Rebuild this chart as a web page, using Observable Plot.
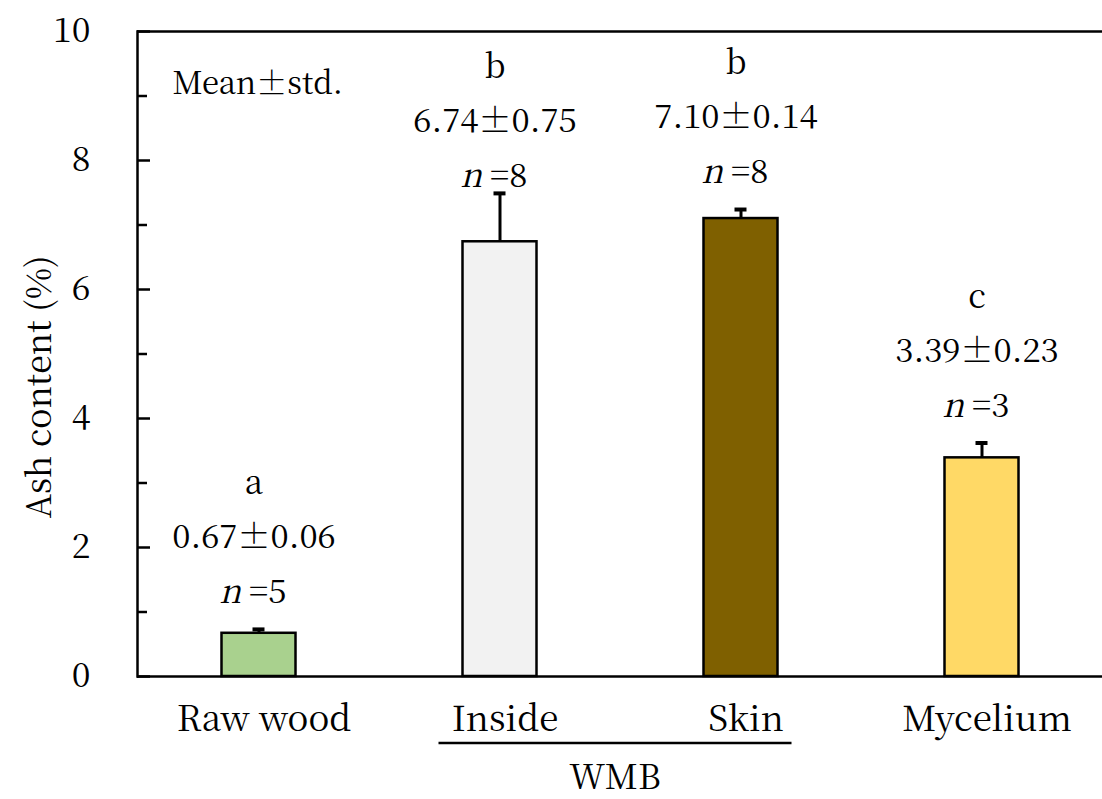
<!DOCTYPE html>
<html>
<head>
<meta charset="utf-8">
<script src="https://cdn.jsdelivr.net/npm/d3@7"></script>
<script src="https://cdn.jsdelivr.net/npm/@observablehq/plot@0.6"></script>
<style>
  html, body { margin: 0; padding: 0; background: #fff; }
  #chart { width: 1102px; height: 799px; }
  #chart svg, #chart svg text {
    font-family: "Noto Serif CJK JP", "Liberation Serif", serif !important;
  }
</style>
</head>
<body>
<div id="chart"></div>
<script>
// Ash content of raw wood, WMB (inside / skin) and mycelium
const groups  = ["Raw wood", "Inside", "Skin", "Mycelium"];
const means   = [0.67, 6.74, 7.10, 3.39];
const stds    = [0.06, 0.75, 0.14, 0.23];
const counts  = [5, 8, 8, 3];
const letters = ["a", "b", "b", "c"];
const colors  = ["#a9d18e", "#f2f2f2", "#7f6000", "#ffd966"];
const yMajorTicks = [0, 2, 4, 6, 8, 10];
const yMinorTicks = [1, 3, 5, 7, 9];
const wmbGroups = ["Inside", "Skin"];

const fmt = (v) => v.toFixed(2);
const data = groups.map((g, i) => ({
  group: g,
  mean: means[i],
  std: stds[i],
  top: means[i] + stds[i],
  n: counts[i],
  letter: letters[i],
  color: colors[i],
  stat: `${fmt(means[i])}±${fmt(stds[i])}`
}));

const FS = 34;      // axis text
const FS_ANN = 33;  // annotations
const AXIS_W = 2.5;

// labels above each error bar: letter, mean ± std, n
function annotations(rows, lift) {
  const base = {x: "group", y: "top", lineAnchor: "middle", fontSize: FS_ANN, fill: "black"};
  return [
    Plot.text(rows, {...base, text: "letter", dx: -5, dy: -146 + lift}),
    Plot.text(rows, {...base, text: "stat", dx: -5, dy: -92 + lift}),
    Plot.text(rows, {...base, text: () => "n", fontStyle: "italic", textAnchor: "end", dx: -18, dy: -37 + lift}),
    Plot.text(rows, {...base, text: (d) => `=${d.n}`, textAnchor: "start", dx: -10, dy: -37 + lift})
  ];
}

const chart = Plot.plot({
  width: 1102,
  height: 799,
  marginLeft: 137,
  marginRight: 0,
  marginTop: 31,
  marginBottom: 123,
  style: {fontSize: `${FS}px`, color: "black", background: "white", overflow: "visible"},
  x: {domain: groups, padding: 0, axis: null},
  y: {domain: [0, 10], axis: null},
  color: {type: "identity"},
  marks: [
    Plot.barY(data, {
      x: "group", y: "mean", fill: "color",
      stroke: "black", strokeWidth: 2.5, insetLeft: 83.5, insetRight: 83.5
    }),
    // upward error bars with caps
    Plot.ruleX(data, {x: "group", y1: "mean", y2: "top", stroke: "black", strokeWidth: 3}),
    Plot.tickY(data, {x: "group", y: "top", stroke: "black", strokeWidth: 4, inset: 114.5}),

    // axis lines
    Plot.ruleY([0, 10], {stroke: "black", strokeWidth: AXIS_W}),
    Plot.frame({anchor: "left", stroke: "black", strokeWidth: AXIS_W}),

    // inward tick marks
    Plot.axisY(yMajorTicks, {tickSize: -13, tickFormat: () => "", label: null, strokeWidth: AXIS_W}),
    Plot.axisY(yMinorTicks, {tickSize: -10, tickFormat: () => "", label: null, strokeWidth: AXIS_W}),
    // tick labels
    Plot.axisY(yMajorTicks, {tickSize: 0, tickPadding: 47, label: null, fontSize: FS, tickFormat: (d) => String(d)}),
    Plot.axisX({tickSize: 0, tickPadding: 30, label: null, fontSize: 35, dx: 5}),

    // axis title
    Plot.text(["Ash content (%)"], {
      frameAnchor: "left", rotate: -90, dx: -97, dy: 33,
      fontSize: FS, textAnchor: "middle", lineAnchor: "middle"
    }),
    Plot.text(["Mean±std."], {
      frameAnchor: "top-left", dx: 35, dy: 53,
      fontSize: 31, textAnchor: "start", lineAnchor: "middle"
    }),

    ...annotations(data.filter((d) => d.group !== "Inside"), 0),
    ...annotations(data.filter((d) => d.group === "Inside"), 20)
  ]
});

document.getElementById("chart").appendChild(chart);

// group bracket under the WMB categories
const xs = chart.scale("x");
const ys = chart.scale("y");
const center = (g) => xs.apply(g) + xs.bandwidth / 2;
const x1 = center(wmbGroups[0]) - 61;
const x2 = center(wmbGroups[1]) + 51;
const yLine = ys.apply(0) + 67;
const svg = d3.select(chart);
svg.append("line")
  .attr("x1", x1).attr("x2", x2)
  .attr("y1", yLine).attr("y2", yLine)
  .attr("stroke", "black").attr("stroke-width", 2.5);
svg.append("text")
  .attr("x", (x1 + x2) / 2).attr("y", yLine + 31)
  .attr("text-anchor", "middle").attr("dominant-baseline", "central")
  .attr("font-size", FS).attr("fill", "black")
  .text("WMB");
</script>
</body>
</html>
